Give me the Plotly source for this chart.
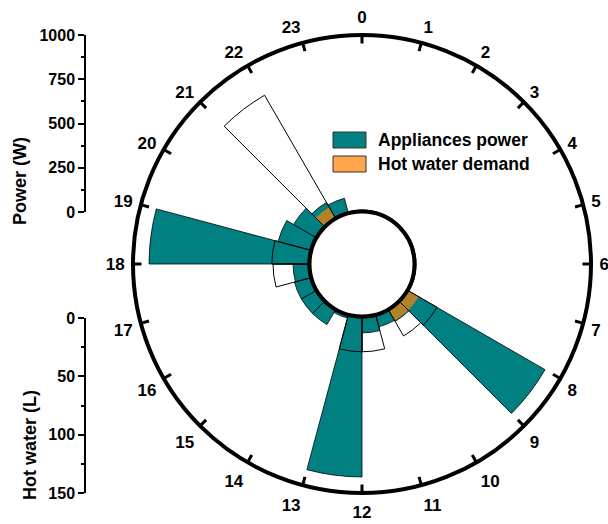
import plotly.graph_objects as go

W, H = 608, 524

hours = list(range(24))
hour_labels = [str(h) for h in hours]

# Appliance power for each hourly slot [h, h+1) in W
power_w = [0, 0, 0, 0, 0, 0, 0, 0,
           900, 78, 71, 93, 909, 20, 99, 99,
           99, 93, 909, 195, 150, 105, 88, 0]

# Hot water demand for each hourly slot in L
hot_water_l = [0, 0, 0, 0, 0, 0, 0, 0,
               29, 26, 0, 30, 30, 0, 0, 0,
               0, 31, 32, 0, 0, 121, 0, 0]

# Part of the hot water demand shaded around the inner ring (L)
hot_water_inner_l = [0, 0, 0, 0, 0, 0, 0, 0,
                     11, 11, 0, 1, 1, 0, 0, 0,
                     0, 1, 1, 0, 0, 11, 0, 0]

power_ticks = [0, 250, 500, 750, 1000]
water_ticks = [0, 50, 100, 150]

POWER_MAX = 1000
WATER_MAX = 150

TEAL = "#008080"
ORANGE = "#FFA64D"
FONT = "Liberation Sans, Arial, sans-serif"

slot_width = 360 / len(hours)
theta_mid = [h * slot_width + slot_width / 2 for h in hours]
tick_theta = [h * slot_width for h in hours]


def px(x):
    return x / W


def py(y):
    return 1 - y / H


fig = go.Figure()

# appliance power bars (power scale)
fig.add_trace(go.Barpolar(
    r=power_w, theta=theta_mid, width=[slot_width] * 24,
    marker=dict(color=TEAL, line=dict(color="black", width=0.8)),
    name="Appliances power", showlegend=False, subplot="polar",
))

# hot water shading near the inner ring (hot water scale, drawn over the power bars)
fig.add_trace(go.Barpolar(
    r=hot_water_inner_l, theta=theta_mid, width=[slot_width] * 24,
    marker=dict(color="rgba(237,131,13,0.75)", line=dict(width=0)),
    name="Hot water demand", showlegend=False, subplot="polar2",
))

# hot water demand outlines
fig.add_trace(go.Barpolar(
    r=hot_water_l, theta=theta_mid, width=[slot_width] * 24,
    marker=dict(color="rgba(0,0,0,0)", line=dict(color="black", width=1)),
    showlegend=False, subplot="polar2",
))

# inner ring at the zero radius
fig.add_trace(go.Scatterpolar(
    r=[0] * 361, theta=list(range(361)), mode="lines",
    line=dict(color="black", width=4), cliponaxis=False,
    showlegend=False, hoverinfo="skip", subplot="polar2",
))

# invisible traces that carry the two linear scales on the left
fig.add_trace(go.Scatter(x=[0], y=[0], mode="markers", marker=dict(opacity=0),
                         showlegend=False, hoverinfo="skip", xaxis="x", yaxis="y"))
fig.add_trace(go.Scatter(x=[0], y=[0], mode="markers", marker=dict(opacity=0),
                         showlegend=False, hoverinfo="skip", xaxis="x2", yaxis="y2"))

center_x, center_y, radius = 362, 264, 229
hole = 52.5 / radius
polar_domain = dict(x=[px(center_x - radius), px(center_x + radius)],
                    y=[py(center_y + radius), py(center_y - radius)])

angular_common = dict(rotation=90, direction="clockwise", thetaunit="degrees",
                      tickmode="array", tickvals=tick_theta, ticktext=hour_labels,
                      showgrid=False)

hidden_radial = dict(autorange=False, showline=False, showticklabels=False,
                     ticks="", showgrid=False)

fig.update_layout(
    width=W, height=H,
    margin=dict(l=0, r=0, t=0, b=0, pad=0, autoexpand=False),
    paper_bgcolor="white", plot_bgcolor="rgba(0,0,0,0)",
    font=dict(family=FONT, color="black"),
    showlegend=False,
    polar=dict(
        domain=polar_domain, hole=hole, bgcolor="white", barmode="overlay",
        radialaxis=dict(range=[0, POWER_MAX], **hidden_radial),
        # outer ring and hour labels; the transparent outside ticks give the labels room
        angularaxis=dict(**angular_common, showline=True, linewidth=4, linecolor="black",
                         ticks="outside", ticklen=3, tickwidth=1, tickcolor="rgba(0,0,0,0)",
                         tickfont=dict(size=17, family=FONT, weight="bold", color="black")),
    ),
    polar2=dict(
        domain=polar_domain, hole=hole, bgcolor="rgba(0,0,0,0)", barmode="overlay",
        radialaxis=dict(range=[0, WATER_MAX], **hidden_radial),
        # hour ticks pointing inwards from the outer ring
        angularaxis=dict(**angular_common, showline=False, showticklabels=False,
                         ticks="inside", ticklen=8, tickwidth=3, tickcolor="black"),
    ),
    xaxis=dict(domain=[0.9, 0.95], visible=False, range=[0, 1]),
    xaxis2=dict(domain=[0.9, 0.95], visible=False, range=[0, 1]),
    yaxis=dict(
        domain=[py(212), py(35)], range=[0, POWER_MAX], anchor="free", position=px(85),
        automargin=False,
        tickmode="array", tickvals=power_ticks, showline=True, linewidth=1.5, linecolor="black",
        ticks="outside", ticklen=6, tickwidth=1.5, tickcolor="black",
        minor=dict(dtick=125, ticks="outside", ticklen=3, tickwidth=1.5, tickcolor="black"),
        showgrid=False, zeroline=False,
        tickfont=dict(size=16, family=FONT, weight="bold", color="black"),
    ),
    yaxis2=dict(
        domain=[py(493), py(318)], range=[WATER_MAX, 0], anchor="free", position=px(85),
        automargin=False,
        tickmode="array", tickvals=water_ticks, showline=True, linewidth=1.5, linecolor="black",
        ticks="outside", ticklen=6, tickwidth=1.5, tickcolor="black",
        minor=dict(dtick=25, ticks="outside", ticklen=3, tickwidth=1.5, tickcolor="black"),
        showgrid=False, zeroline=False,
        tickfont=dict(size=16, family=FONT, weight="bold", color="black"),
    ),
)

# axis titles
fig.add_annotation(text="Power (W)", x=px(20), y=py(181), xref="paper", yref="paper",
                   xanchor="center", yanchor="middle", textangle=-90, showarrow=False,
                   font=dict(size=18, family=FONT, weight="bold", color="black"))
fig.add_annotation(text="Hot water (L)", x=px(30), y=py(445), xref="paper", yref="paper",
                   xanchor="center", yanchor="middle", textangle=-90, showarrow=False,
                   font=dict(size=18, family=FONT, weight="bold", color="black"))

# legend
legend_items = [("Appliances power", TEAL, 140), ("Hot water demand", ORANGE, 164)]
for label, color, yc in legend_items:
    fig.add_shape(type="rect", xref="paper", yref="paper",
                  x0=px(333), x1=px(366), y0=py(yc + 8), y1=py(yc - 8),
                  fillcolor=color, line=dict(color="#333333", width=1))
    fig.add_annotation(text=label, x=px(376), y=py(yc), xref="paper", yref="paper",
                       xanchor="left", yanchor="middle", showarrow=False,
                       font=dict(size=17.5, family=FONT, weight="bold", color="black"))

fig.write_html("out.html")
